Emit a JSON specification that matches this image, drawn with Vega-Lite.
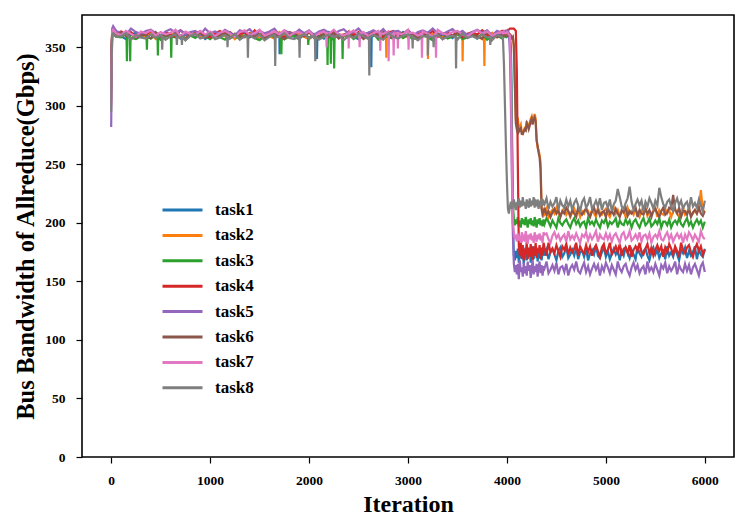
{
  "$schema": "https://vega.github.io/schema/vega-lite/v6.json",
  "width": 652,
  "height": 442,
  "autosize": {"type": "none"},
  "padding": {"left": 82, "top": 15, "right": 13, "bottom": 72},
  "background": "white",
  "config": {
    "view": {"stroke": "black", "strokeWidth": 1.6},
    "font": "Liberation Serif",
    "axis": {
      "labelFont": "Liberation Serif", "labelFontWeight": "bold", "labelFontSize": 13.5, "labelColor": "black",
      "titleFont": "Liberation Serif", "titleFontWeight": "bold", "titleColor": "black",
      "tickColor": "black", "tickSize": 6, "tickWidth": 1.2, "grid": false, "domain": false
    }
  },
  "data": {"values": [
    {"x":0,"task1":310,"task2":305,"task3":320,"task4":330,"task5":282,"task6":315,"task7":300,"task8":295},
    {"x":5,"task1":345,"task2":330,"task3":350,"task4":355,"task5":330,"task6":350,"task7":345,"task8":340},
    {"x":10,"task1":362,"task2":360,"task3":360,"task4":363,"task5":366,"task6":362,"task7":363,"task8":361},
    {"x":20,"task1":363,"task2":362,"task3":361,"task4":364,"task5":368,"task6":364,"task7":365,"task8":362},
    {"x":50,"task1":360,"task2":360,"task3":359,"task4":362,"task5":364,"task6":361,"task7":362,"task8":359},
    {"x":100,"task1":359.5,"task2":359,"task3":358.5,"task4":363.5,"task5":362.5,"task6":362.5,"task7":360.5,"task8":359.5},
    {"x":150,"task1":357,"task2":362.5,"task3":362,"task4":361,"task5":360.5,"task6":359.5,"task7":364,"task8":362},
    {"x":200,"task1":361,"task2":357.5,"task3":358,"task4":363,"task5":366,"task6":361.5,"task7":361.5,"task8":356.5},
    {"x":250,"task1":362.5,"task2":360.5,"task3":357,"task4":358.5,"task5":363,"task6":358,"task7":359,"task8":360.5},
    {"x":300,"task1":358.5,"task2":361,"task3":359.5,"task4":362.5,"task5":361.5,"task6":360,"task7":363.5,"task8":358.5},
    {"x":350,"task1":360,"task2":358.5,"task3":361.5,"task4":360.5,"task5":364,"task6":361,"task7":362,"task8":357.5},
    {"x":400,"task1":363,"task2":362,"task3":357.5,"task4":364,"task5":365,"task6":357.5,"task7":364.5,"task8":361},
    {"x":450,"task1":358,"task2":357,"task3":360,"task4":362,"task5":362,"task6":363,"task7":360,"task8":358},
    {"x":500,"task1":359.5,"task2":360,"task3":356.5,"task4":359.5,"task5":360,"task6":359,"task7":363,"task8":360.5},
    {"x":550,"task1":361.5,"task2":361.5,"task3":359,"task4":363,"task5":363.5,"task6":360.5,"task7":361,"task8":356.5},
    {"x":600,"task1":359,"task2":359.5,"task3":361,"task4":361,"task5":365.5,"task6":358.5,"task7":362.5,"task8":359.5},
    {"x":650,"task1":362.5,"task2":363,"task3":358.5,"task4":359,"task5":362.5,"task6":362,"task7":365,"task8":361},
    {"x":700,"task1":357.5,"task2":359,"task3":360.5,"task4":364.5,"task5":364.5,"task6":359.5,"task7":359.5,"task8":358.5},
    {"x":750,"task1":360.5,"task2":358,"task3":356,"task4":361.5,"task5":361,"task6":357,"task7":363.5,"task8":356},
    {"x":800,"task1":361,"task2":360.5,"task3":360,"task4":360,"task5":363,"task6":361.5,"task7":361.5,"task8":360},
    {"x":850,"task1":358.5,"task2":362.5,"task3":358,"task4":362.5,"task5":364,"task6":360,"task7":360.5,"task8":361.5},
    {"x":900,"task1":362,"task2":358.5,"task3":361.5,"task4":363.5,"task5":360.5,"task6":362.5,"task7":364,"task8":357.5},
    {"x":950,"task1":357,"task2":361,"task3":359.5,"task4":360.5,"task5":366,"task6":358,"task7":361,"task8":359},
    {"x":1000,"task1":360,"task2":357.5,"task3":357,"task4":358.5,"task5":362,"task6":361,"task7":363.5,"task8":362},
    {"x":1050,"task1":361.5,"task2":360,"task3":360.5,"task4":362,"task5":363.5,"task6":359,"task7":359.5,"task8":357},
    {"x":1100,"task1":359.5,"task2":362,"task3":358.5,"task4":364,"task5":361.5,"task6":360.5,"task7":362.5,"task8":358.5},
    {"x":1150,"task1":363,"task2":359.5,"task3":356.5,"task4":361,"task5":365,"task6":363,"task7":364,"task8":360.5},
    {"x":1200,"task1":359,"task2":361.5,"task3":362,"task4":363,"task5":362.5,"task6":357.5,"task7":361.5,"task8":358},
    {"x":1250,"task1":358,"task2":357,"task3":359,"task4":359.5,"task5":360,"task6":361.5,"task7":359,"task8":361.5},
    {"x":1300,"task1":360.5,"task2":361,"task3":357.5,"task4":361.5,"task5":364.5,"task6":359.5,"task7":363,"task8":356.5},
    {"x":1350,"task1":362.5,"task2":359,"task3":360,"task4":362.5,"task5":363,"task6":358.5,"task7":364.5,"task8":359.5},
    {"x":1400,"task1":358.5,"task2":362.5,"task3":361,"task4":359,"task5":365.5,"task6":362,"task7":360.5,"task8":360},
    {"x":1450,"task1":361,"task2":360.5,"task3":358,"task4":364.5,"task5":361,"task6":359,"task7":362,"task8":357.5},
    {"x":1500,"task1":357.5,"task2":358,"task3":356,"task4":360.5,"task5":364,"task6":361.5,"task7":365,"task8":361},
    {"x":1550,"task1":360,"task2":361.5,"task3":359.5,"task4":362,"task5":362,"task6":357.5,"task7":360,"task8":356},
    {"x":1600,"task1":362,"task2":359.5,"task3":361.5,"task4":360,"task5":363.5,"task6":360.5,"task7":361.5,"task8":359},
    {"x":1650,"task1":359.5,"task2":357.5,"task3":358.5,"task4":363.5,"task5":366,"task6":362,"task7":363.5,"task8":360.5},
    {"x":1700,"task1":361.5,"task2":363,"task3":360.5,"task4":361,"task5":360.5,"task6":359.5,"task7":361,"task8":358.5},
    {"x":1750,"task1":357,"task2":360,"task3":357,"task4":358.5,"task5":364.5,"task6":357,"task7":364.5,"task8":362},
    {"x":1800,"task1":361,"task2":358.5,"task3":359,"task4":363,"task5":362.5,"task6":361,"task7":359.5,"task8":358},
    {"x":1850,"task1":359,"task2":361,"task3":360,"task4":361.5,"task5":361.5,"task6":362.5,"task7":362.5,"task8":357},
    {"x":1900,"task1":362.5,"task2":362,"task3":356.5,"task4":364,"task5":365,"task6":358.5,"task7":363,"task8":359.5},
    {"x":1950,"task1":360.5,"task2":359,"task3":362,"task4":359.5,"task5":362,"task6":360,"task7":360.5,"task8":361.5},
    {"x":2000,"task1":358,"task2":357,"task3":358,"task4":362.5,"task5":364.5,"task6":363,"task7":364,"task8":357.5},
    {"x":2050,"task1":361.5,"task2":360.5,"task3":359.5,"task4":360.5,"task5":360.5,"task6":358,"task7":359,"task8":360},
    {"x":2100,"task1":359.5,"task2":362.5,"task3":357.5,"task4":362,"task5":363.5,"task6":359.5,"task7":362,"task8":356.5},
    {"x":2150,"task1":357.5,"task2":359.5,"task3":361,"task4":364.5,"task5":365,"task6":361.5,"task7":363.5,"task8":359},
    {"x":2200,"task1":363,"task2":361.5,"task3":358.5,"task4":359,"task5":362.5,"task6":359,"task7":361.5,"task8":361},
    {"x":2250,"task1":360,"task2":358,"task3":356,"task4":363,"task5":360,"task6":362.5,"task7":365,"task8":358.5},
    {"x":2300,"task1":358.5,"task2":360,"task3":360.5,"task4":361,"task5":364,"task6":357.5,"task7":361,"task8":360.5},
    {"x":2350,"task1":361,"task2":361,"task3":359,"task4":360,"task5":365.5,"task6":360.5,"task7":360,"task8":356},
    {"x":2400,"task1":362,"task2":357.5,"task3":361.5,"task4":363.5,"task5":361.5,"task6":361,"task7":362.5,"task8":360},
    {"x":2450,"task1":359,"task2":363,"task3":357,"task4":360.5,"task5":363,"task6":358.5,"task7":364.5,"task8":358},
    {"x":2500,"task1":357,"task2":359,"task3":360,"task4":363,"task5":366,"task6":362,"task7":360.5,"task8":361.5},
    {"x":2550,"task1":360.5,"task2":360.5,"task3":358,"task4":359,"task5":361,"task6":357,"task7":363,"task8":359.5},
    {"x":2600,"task1":362.5,"task2":358.5,"task3":359.5,"task4":362,"task5":362.5,"task6":360,"task7":359.5,"task8":357},
    {"x":2650,"task1":359.5,"task2":362,"task3":362,"task4":363.5,"task5":364.5,"task6":361.5,"task7":362,"task8":360.5},
    {"x":2700,"task1":361.5,"task2":359.5,"task3":356.5,"task4":361,"task5":362,"task6":359.5,"task7":364,"task8":358.5},
    {"x":2750,"task1":358,"task2":357,"task3":360.5,"task4":358.5,"task5":365.5,"task6":363,"task7":361.5,"task8":356.5},
    {"x":2800,"task1":360,"task2":361.5,"task3":358.5,"task4":362.5,"task5":360.5,"task6":359,"task7":363.5,"task8":362},
    {"x":2850,"task1":361,"task2":360,"task3":357.5,"task4":364,"task5":363.5,"task6":358,"task7":359,"task8":359},
    {"x":2900,"task1":357.5,"task2":362.5,"task3":361,"task4":360,"task5":364,"task6":360.5,"task7":363,"task8":357.5},
    {"x":2950,"task1":363,"task2":358,"task3":358,"task4":361.5,"task5":361.5,"task6":362.5,"task7":361,"task8":360},
    {"x":3000,"task1":359,"task2":361,"task3":360.5,"task4":364.5,"task5":365,"task6":358.5,"task7":364.5,"task8":361},
    {"x":3050,"task1":360.5,"task2":359,"task3":356.5,"task4":359.5,"task5":360,"task6":361,"task7":362.5,"task8":358},
    {"x":3100,"task1":358.5,"task2":360.5,"task3":359.5,"task4":361,"task5":363,"task6":357.5,"task7":360,"task8":356},
    {"x":3150,"task1":362,"task2":363,"task3":361,"task4":363,"task5":364.5,"task6":360,"task7":363.5,"task8":359.5},
    {"x":3200,"task1":359.5,"task2":357.5,"task3":358.5,"task4":360.5,"task5":362.5,"task6":362,"task7":361.5,"task8":361.5},
    {"x":3250,"task1":357,"task2":361.5,"task3":356,"task4":364,"task5":366,"task6":359.5,"task7":359.5,"task8":358.5},
    {"x":3300,"task1":361.5,"task2":359.5,"task3":360,"task4":359,"task5":362,"task6":361.5,"task7":365,"task8":360.5},
    {"x":3350,"task1":360,"task2":358.5,"task3":361.5,"task4":362,"task5":361,"task6":357,"task7":362,"task8":357},
    {"x":3400,"task1":362.5,"task2":362,"task3":357.5,"task4":362.5,"task5":363.5,"task6":361,"task7":360.5,"task8":359},
    {"x":3450,"task1":358,"task2":359,"task3":359,"task4":360,"task5":365.5,"task6":359,"task7":363,"task8":360},
    {"x":3500,"task1":361,"task2":361.5,"task3":362,"task4":363.5,"task5":361.5,"task6":362.5,"task7":364,"task8":356.5},
    {"x":3550,"task1":359,"task2":357.5,"task3":357,"task4":358.5,"task5":364,"task6":360.5,"task7":361,"task8":362},
    {"x":3600,"task1":360.5,"task2":360.5,"task3":358.5,"task4":361.5,"task5":360.5,"task6":358,"task7":359,"task8":358},
    {"x":3650,"task1":363,"task2":362,"task3":360.5,"task4":363,"task5":363,"task6":361.5,"task7":362.5,"task8":359.5},
    {"x":3700,"task1":357.5,"task2":359.5,"task3":358,"task4":361,"task5":365,"task6":359.5,"task7":364.5,"task8":357.5},
    {"x":3750,"task1":361.5,"task2":357,"task3":361.5,"task4":364.5,"task5":362.5,"task6":357.5,"task7":361.5,"task8":361},
    {"x":3800,"task1":359.5,"task2":361,"task3":356.5,"task4":360.5,"task5":364.5,"task6":363,"task7":363.5,"task8":358.5},
    {"x":3850,"task1":358.5,"task2":362.5,"task3":359.5,"task4":359.5,"task5":360,"task6":360,"task7":360,"task8":356},
    {"x":3900,"task1":362,"task2":358.5,"task3":360,"task4":362,"task5":364,"task6":358.5,"task7":362,"task8":360.5},
    {"x":3950,"task1":359,"task2":360,"task3":357.5,"task4":364,"task5":362,"task6":361,"task7":363,"task8":359},
    {"x":3960,"task1":360,"task2":360,"task3":359,"task4":362,"task5":363,"task6":360,"task7":362,"task8":357},
    {"x":3970,"task1":361,"task2":361,"task3":360,"task4":363,"task5":364,"task6":361,"task7":363,"task8":335},
    {"x":3980,"task1":360,"task2":360,"task3":359,"task4":363,"task5":363,"task6":360,"task7":362,"task8":300},
    {"x":3990,"task1":359,"task2":361,"task3":360,"task4":364,"task5":364,"task6":361,"task7":362,"task8":265},
    {"x":4000,"task1":361,"task2":360,"task3":359,"task4":364,"task5":363,"task6":360,"task7":363,"task8":235},
    {"x":4010,"task1":360,"task2":361,"task3":360,"task4":365,"task5":364,"task6":361,"task7":362,"task8":212},
    {"x":4020,"task1":361,"task2":360,"task3":359,"task4":365,"task5":362,"task6":360,"task7":361,"task8":208},
    {"x":4030,"task1":359,"task2":361,"task3":358,"task4":366,"task5":345,"task6":361,"task7":360,"task8":214},
    {"x":4040,"task1":350,"task2":360,"task3":340,"task4":366,"task5":300,"task6":360,"task7":330,"task8":218},
    {"x":4050,"task1":290,"task2":358,"task3":270,"task4":366,"task5":240,"task6":358,"task7":250,"task8":212},
    {"x":4060,"task1":200,"task2":359,"task3":215,"task4":366,"task5":190,"task6":359,"task7":200,"task8":216},
    {"x":4070,"task1":172,"task2":350,"task3":204,"task4":366,"task5":165,"task6":352,"task7":192,"task8":220},
    {"x":4080,"task1":168,"task2":320,"task3":198,"task4":365,"task5":158,"task6":318,"task7":186,"task8":214},
    {"x":4090,"task1":176,"task2":288,"task3":203,"task4":364,"task5":164,"task6":285,"task7":190,"task8":211},
    {"x":4100,"task1":170,"task2":282,"task3":199,"task4":330,"task5":156,"task6":280,"task7":184,"task8":218},
    {"x":4110,"task1":178,"task2":290,"task3":205,"task4":250,"task5":165,"task6":282,"task7":191,"task8":215},
    {"x":4120,"task1":166,"task2":279,"task3":197,"task4":180,"task5":152,"task6":278,"task7":185,"task8":221},
    {"x":4130,"task1":174,"task2":282,"task3":202,"task4":172,"task5":168,"task6":280,"task7":189,"task8":213},
    {"x":4140,"task1":180,"task2":284,"task3":196,"task4":184,"task5":158,"task6":281,"task7":183,"task8":219},
    {"x":4150,"task1":169,"task2":277,"task3":204,"task4":170,"task5":162,"task6":276,"task7":192,"task8":214},
    {"x":4160,"task1":177,"task2":276,"task3":199,"task4":181,"task5":154,"task6":276,"task7":186,"task8":222},
    {"x":4170,"task1":165,"task2":279,"task3":203,"task4":168,"task5":166,"task6":278,"task7":188,"task8":215},
    {"x":4180,"task1":173,"task2":281,"task3":198,"task4":178,"task5":157,"task6":280,"task7":184,"task8":218},
    {"x":4190,"task1":179,"task2":280,"task3":205,"task4":173,"task5":163,"task6":279,"task7":193,"task8":212},
    {"x":4200,"task1":168,"task2":287,"task3":200,"task4":184,"task5":155,"task6":285,"task7":187,"task8":220},
    {"x":4210,"task1":175,"task2":284,"task3":196,"task4":169,"task5":167,"task6":283,"task7":182,"task8":216},
    {"x":4220,"task1":171,"task2":281,"task3":203,"task4":179,"task5":159,"task6":280,"task7":190,"task8":213},
    {"x":4230,"task1":178,"task2":285,"task3":199,"task4":171,"task5":164,"task6":283,"task7":186,"task8":221},
    {"x":4240,"task1":166,"task2":289,"task3":204,"task4":182,"task5":153,"task6":287,"task7":191,"task8":214},
    {"x":4250,"task1":174,"task2":291,"task3":198,"task4":175,"task5":161,"task6":289,"task7":185,"task8":219},
    {"x":4260,"task1":180,"task2":286,"task3":202,"task4":168,"task5":168,"task6":284,"task7":189,"task8":215},
    {"x":4270,"task1":169,"task2":290,"task3":197,"task4":180,"task5":156,"task6":288,"task7":183,"task8":222},
    {"x":4280,"task1":176,"task2":293,"task3":205,"task4":172,"task5":163,"task6":290,"task7":192,"task8":213},
    {"x":4290,"task1":172,"task2":289,"task3":200,"task4":183,"task5":158,"task6":287,"task7":187,"task8":218},
    {"x":4300,"task1":179,"task2":272,"task3":196,"task4":170,"task5":165,"task6":270,"task7":184,"task8":216},
    {"x":4310,"task1":167,"task2":264,"task3":203,"task4":178,"task5":154,"task6":266,"task7":190,"task8":220},
    {"x":4320,"task1":175,"task2":262,"task3":199,"task4":174,"task5":162,"task6":260,"task7":186,"task8":212},
    {"x":4330,"task1":170,"task2":258,"task3":204,"task4":181,"task5":167,"task6":256,"task7":191,"task8":219},
    {"x":4340,"task1":177,"task2":252,"task3":198,"task4":169,"task5":157,"task6":245,"task7":185,"task8":214},
    {"x":4350,"task1":168,"task2":213,"task3":202,"task4":179,"task5":164,"task6":212,"task7":189,"task8":221},
    {"x":4360,"task1":174,"task2":210,"task3":197,"task4":172,"task5":155,"task6":207,"task7":183,"task8":215},
    {"x":4370,"task1":180,"task2":206,"task3":203,"task4":183,"task5":163,"task6":209,"task7":192,"task8":218},
    {"x":4380,"task1":172,"task2":207,"task3":199,"task4":179,"task5":161,"task6":213,"task7":190,"task8":216},
    {"x":4400,"task1":177,"task2":212,"task3":204,"task4":172,"task5":167,"task6":207,"task7":191,"task8":221},
    {"x":4420,"task1":169,"task2":205,"task3":201,"task4":183,"task5":157,"task6":210,"task7":186,"task8":212},
    {"x":4440,"task1":175,"task2":209,"task3":197,"task4":175,"task5":160,"task6":205,"task7":183,"task8":218},
    {"x":4460,"task1":178,"task2":211,"task3":202,"task4":178,"task5":164,"task6":209,"task7":189,"task8":214},
    {"x":4480,"task1":173,"task2":208,"task3":199,"task4":174,"task5":159,"task6":212,"task7":192,"task8":217},
    {"x":4500,"task1":168,"task2":213,"task3":196,"task4":181,"task5":166,"task6":208,"task7":187,"task8":222},
    {"x":4520,"task1":176,"task2":208,"task3":204,"task4":176,"task5":156,"task6":211,"task7":190,"task8":211},
    {"x":4540,"task1":179,"task2":206,"task3":200,"task4":171,"task5":162,"task6":205,"task7":185,"task8":219},
    {"x":4560,"task1":171,"task2":210,"task3":198,"task4":180,"task5":163,"task6":210,"task7":188,"task8":215},
    {"x":4580,"task1":174,"task2":213,"task3":201,"task4":177,"task5":158,"task6":208,"task7":190,"task8":213},
    {"x":4600,"task1":180,"task2":207,"task3":203,"task4":182,"task5":165,"task6":213,"task7":184,"task8":220},
    {"x":4620,"task1":170,"task2":210,"task3":199,"task4":173,"task5":155,"task6":210,"task7":193,"task8":214},
    {"x":4640,"task1":173,"task2":205,"task3":196,"task4":179,"task5":161,"task6":206,"task7":186,"task8":219},
    {"x":4660,"task1":177,"task2":209,"task3":201,"task4":175,"task5":164,"task6":211,"task7":189,"task8":211},
    {"x":4680,"task1":172,"task2":212,"task3":204,"task4":178,"task5":160,"task6":208,"task7":186,"task8":217},
    {"x":4700,"task1":179,"task2":208,"task3":199,"task4":183,"task5":167,"task6":205,"task7":191,"task8":220},
    {"x":4720,"task1":169,"task2":211,"task3":202,"task4":172,"task5":159,"task6":213,"task7":187,"task8":215},
    {"x":4740,"task1":175,"task2":205,"task3":197,"task4":180,"task5":157,"task6":209,"task7":183,"task8":210},
    {"x":4760,"task1":176,"task2":210,"task3":200,"task4":176,"task5":162,"task6":207,"task7":190,"task8":218},
    {"x":4780,"task1":171,"task2":208,"task3":201,"task4":174,"task5":166,"task6":210,"task7":188,"task8":221},
    {"x":4800,"task1":178,"task2":213,"task3":196,"task4":181,"task5":158,"task6":212,"task7":192,"task8":213},
    {"x":4820,"task1":168,"task2":210,"task3":204,"task4":175,"task5":163,"task6":208,"task7":185,"task8":216},
    {"x":4840,"task1":174,"task2":206,"task3":199,"task4":180,"task5":156,"task6":205,"task7":190,"task8":222},
    {"x":4860,"task1":177,"task2":211,"task3":201,"task4":172,"task5":161,"task6":210,"task7":186,"task8":212},
    {"x":4880,"task1":173,"task2":208,"task3":198,"task4":178,"task5":165,"task6":213,"task7":189,"task8":215},
    {"x":4900,"task1":180,"task2":205,"task3":203,"task4":181,"task5":160,"task6":208,"task7":193,"task8":219},
    {"x":4920,"task1":172,"task2":213,"task3":199,"task4":176,"task5":164,"task6":211,"task7":184,"task8":214},
    {"x":4940,"task1":170,"task2":209,"task3":196,"task4":171,"task5":155,"task6":206,"task7":190,"task8":221},
    {"x":4960,"task1":175,"task2":207,"task3":202,"task4":179,"task5":163,"task6":209,"task7":187,"task8":211},
    {"x":4980,"task1":179,"task2":210,"task3":200,"task4":182,"task5":159,"task6":210,"task7":186,"task8":217},
    {"x":5000,"task1":171,"task2":212,"task3":204,"task4":174,"task5":166,"task6":205,"task7":191,"task8":218},
    {"x":5020,"task1":176,"task2":208,"task3":197,"task4":177,"task5":162,"task6":213,"task7":186,"task8":213},
    {"x":5040,"task1":169,"task2":205,"task3":201,"task4":183,"task5":157,"task6":208,"task7":190,"task8":220},
    {"x":5060,"task1":174,"task2":210,"task3":199,"task4":173,"task5":164,"task6":210,"task7":184,"task8":210},
    {"x":5080,"task1":178,"task2":213,"task3":201,"task4":176,"task5":160,"task6":207,"task7":189,"task8":216},
    {"x":5100,"task1":173,"task2":208,"task3":204,"task4":180,"task5":156,"task6":212,"task7":191,"task8":219},
    {"x":5120,"task1":177,"task2":211,"task3":196,"task4":175,"task5":167,"task6":208,"task7":187,"task8":229},
    {"x":5140,"task1":168,"task2":206,"task3":202,"task4":182,"task5":161,"task6":205,"task7":183,"task8":222},
    {"x":5160,"task1":176,"task2":209,"task3":199,"task4":172,"task5":158,"task6":211,"task7":190,"task8":214},
    {"x":5180,"task1":172,"task2":210,"task3":198,"task4":178,"task5":163,"task6":209,"task7":192,"task8":212},
    {"x":5200,"task1":179,"task2":205,"task3":203,"task4":179,"task5":165,"task6":213,"task7":186,"task8":217},
    {"x":5220,"task1":175,"task2":213,"task3":199,"task4":174,"task5":159,"task6":206,"task7":188,"task8":221},
    {"x":5240,"task1":170,"task2":208,"task3":202,"task4":181,"task5":155,"task6":210,"task7":193,"task8":231},
    {"x":5260,"task1":177,"task2":210,"task3":196,"task4":171,"task5":162,"task6":208,"task7":185,"task8":218},
    {"x":5280,"task1":173,"task2":207,"task3":201,"task4":177,"task5":166,"task6":210,"task7":187,"task8":211},
    {"x":5300,"task1":169,"task2":212,"task3":203,"task4":180,"task5":160,"task6":213,"task7":190,"task8":216},
    {"x":5320,"task1":180,"task2":208,"task3":199,"task4":176,"task5":164,"task6":205,"task7":186,"task8":220},
    {"x":5340,"task1":174,"task2":205,"task3":196,"task4":183,"task5":157,"task6":211,"task7":192,"task8":215},
    {"x":5360,"task1":171,"task2":211,"task3":201,"task4":175,"task5":161,"task6":208,"task7":184,"task8":219},
    {"x":5380,"task1":176,"task2":209,"task3":204,"task4":173,"task5":163,"task6":207,"task7":189,"task8":210},
    {"x":5400,"task1":178,"task2":213,"task3":198,"task4":178,"task5":156,"task6":212,"task7":190,"task8":218},
    {"x":5420,"task1":172,"task2":206,"task3":200,"task4":182,"task5":167,"task6":208,"task7":186,"task8":214},
    {"x":5440,"task1":168,"task2":210,"task3":204,"task4":174,"task5":159,"task6":211,"task7":191,"task8":221},
    {"x":5460,"task1":175,"task2":208,"task3":197,"task4":179,"task5":162,"task6":205,"task7":183,"task8":217},
    {"x":5480,"task1":179,"task2":210,"task3":199,"task4":172,"task5":158,"task6":210,"task7":188,"task8":212},
    {"x":5500,"task1":173,"task2":213,"task3":202,"task4":177,"task5":165,"task6":212,"task7":190,"task8":219},
    {"x":5520,"task1":177,"task2":205,"task3":199,"task4":181,"task5":160,"task6":208,"task7":187,"task8":215},
    {"x":5540,"task1":170,"task2":211,"task3":204,"task4":176,"task5":155,"task6":205,"task7":193,"task8":230},
    {"x":5560,"task1":174,"task2":208,"task3":196,"task4":180,"task5":164,"task6":210,"task7":186,"task8":222},
    {"x":5580,"task1":176,"task2":207,"task3":201,"task4":171,"task5":161,"task6":213,"task7":185,"task8":216},
    {"x":5600,"task1":169,"task2":212,"task3":201,"task4":179,"task5":166,"task6":207,"task7":189,"task8":213},
    {"x":5620,"task1":180,"task2":208,"task3":198,"task4":175,"task5":157,"task6":209,"task7":192,"task8":218},
    {"x":5640,"task1":172,"task2":211,"task3":203,"task4":182,"task5":163,"task6":213,"task7":186,"task8":220},
    {"x":5660,"task1":175,"task2":205,"task3":196,"task4":178,"task5":159,"task6":212,"task7":190,"task8":214},
    {"x":5680,"task1":171,"task2":210,"task3":200,"task4":173,"task5":162,"task6":224,"task7":184,"task8":210},
    {"x":5700,"task1":178,"task2":212,"task3":202,"task4":180,"task5":167,"task6":211,"task7":188,"task8":217},
    {"x":5720,"task1":173,"task2":208,"task3":199,"task4":176,"task5":156,"task6":208,"task7":191,"task8":221},
    {"x":5740,"task1":168,"task2":205,"task3":204,"task4":172,"task5":164,"task6":213,"task7":187,"task8":215},
    {"x":5760,"task1":177,"task2":210,"task3":199,"task4":183,"task5":160,"task6":205,"task7":190,"task8":219},
    {"x":5780,"task1":174,"task2":213,"task3":197,"task4":177,"task5":158,"task6":210,"task7":183,"task8":212},
    {"x":5800,"task1":179,"task2":207,"task3":201,"task4":174,"task5":165,"task6":210,"task7":190,"task8":216},
    {"x":5820,"task1":170,"task2":209,"task3":204,"task4":179,"task5":159,"task6":207,"task7":186,"task8":218},
    {"x":5840,"task1":176,"task2":213,"task3":198,"task4":181,"task5":164,"task6":212,"task7":192,"task8":211},
    {"x":5860,"task1":172,"task2":206,"task3":201,"task4":175,"task5":156,"task6":205,"task7":189,"task8":222},
    {"x":5880,"task1":175,"task2":208,"task3":196,"task4":171,"task5":162,"task6":209,"task7":185,"task8":214},
    {"x":5900,"task1":180,"task2":211,"task3":200,"task4":178,"task5":165,"task6":211,"task7":190,"task8":217},
    {"x":5920,"task1":169,"task2":208,"task3":203,"task4":182,"task5":160,"task6":208,"task7":187,"task8":213},
    {"x":5940,"task1":177,"task2":213,"task3":199,"task4":176,"task5":155,"task6":213,"task7":184,"task8":220},
    {"x":5960,"task1":173,"task2":228,"task3":202,"task4":180,"task5":163,"task6":208,"task7":193,"task8":215},
    {"x":5980,"task1":171,"task2":210,"task3":196,"task4":173,"task5":166,"task6":206,"task7":188,"task8":210},
    {"x":6000,"task1":178,"task2":210,"task3":201,"task4":177,"task5":158,"task6":210,"task7":186,"task8":219},
    {"x":512,"task8":359},{"x":516,"task8":348},{"x":520,"task8":359},
    {"x":660,"task8":359},{"x":664,"task8":352},{"x":668,"task8":359},
    {"x":711,"task8":359},{"x":715,"task8":352},{"x":719,"task8":359},
    {"x":1172,"task8":359},{"x":1176,"task8":350},{"x":1180,"task8":359},
    {"x":1378,"task8":359},{"x":1382,"task8":341},{"x":1386,"task8":359},
    {"x":1654,"task8":359},{"x":1658,"task8":334},{"x":1662,"task8":359},
    {"x":1900,"task8":359},{"x":1904,"task8":341},{"x":1908,"task8":359},
    {"x":2059,"task8":359},{"x":2063,"task8":338},{"x":2067,"task8":359},
    {"x":2605,"task8":359},{"x":2609,"task8":326},{"x":2613,"task8":359},
    {"x":3043,"task8":359},{"x":3047,"task8":349},{"x":3051,"task8":359},
    {"x":3196,"task8":359},{"x":3200,"task8":343},{"x":3204,"task8":359},
    {"x":3255,"task8":359},{"x":3259,"task8":350},{"x":3263,"task8":359},
    {"x":3482,"task8":359},{"x":3486,"task8":332},{"x":3490,"task8":359},
    {"x":3828,"task8":359},{"x":3832,"task8":352},{"x":3836,"task8":359},
    {"x":155,"task3":359},{"x":159,"task3":338},{"x":163,"task3":359},
    {"x":188,"task3":359},{"x":192,"task3":338},{"x":196,"task3":359},
    {"x":357,"task3":359},{"x":361,"task3":348},{"x":365,"task3":359},
    {"x":468,"task3":359},{"x":472,"task3":343},{"x":476,"task3":359},
    {"x":603,"task3":359},{"x":607,"task3":341},{"x":611,"task3":359},
    {"x":1716,"task3":359},{"x":1720,"task3":344},{"x":1724,"task3":359},
    {"x":1988,"task3":359},{"x":1992,"task3":352},{"x":1996,"task3":359},
    {"x":2183,"task3":359},{"x":2187,"task3":335},{"x":2191,"task3":359},
    {"x":2216,"task3":359},{"x":2220,"task3":336},{"x":2224,"task3":359},
    {"x":2250,"task3":359},{"x":2254,"task3":332},{"x":2258,"task3":359},
    {"x":2335,"task3":359},{"x":2339,"task3":340},{"x":2343,"task3":359},
    {"x":1698,"task1":360},{"x":1702,"task1":344},{"x":1706,"task1":360},
    {"x":2076,"task1":360},{"x":2080,"task1":340},{"x":2084,"task1":360},
    {"x":2625,"task1":360},{"x":2629,"task1":333},{"x":2633,"task1":360},
    {"x":2173,"task7":362},{"x":2177,"task7":350},{"x":2181,"task7":362},
    {"x":2396,"task7":362},{"x":2400,"task7":349},{"x":2404,"task7":362},
    {"x":2507,"task7":362},{"x":2511,"task7":350},{"x":2515,"task7":362},
    {"x":2716,"task7":362},{"x":2720,"task7":347},{"x":2724,"task7":362},
    {"x":2800,"task7":362},{"x":2804,"task7":338},{"x":2808,"task7":362},
    {"x":2851,"task7":362},{"x":2855,"task7":343},{"x":2859,"task7":362},
    {"x":2894,"task7":362},{"x":2898,"task7":349},{"x":2902,"task7":362},
    {"x":3002,"task7":362},{"x":3006,"task7":348},{"x":3010,"task7":362},
    {"x":3137,"task7":362},{"x":3141,"task7":341},{"x":3145,"task7":362},
    {"x":3279,"task7":362},{"x":3283,"task7":341},{"x":3287,"task7":362},
    {"x":2777,"task2":360},{"x":2781,"task2":341},{"x":2785,"task2":360},
    {"x":3198,"task2":360},{"x":3202,"task2":340},{"x":3206,"task2":360},
    {"x":3548,"task2":360},{"x":3552,"task2":338},{"x":3556,"task2":360},
    {"x":3768,"task2":360},{"x":3772,"task2":334},{"x":3776,"task2":360}
  ]},
  "transform": [
    {"fold": ["task1","task2","task3","task4","task5","task6","task7","task8"], "as": ["task","value"]},
    {"filter": "isValid(datum.value)"}
  ],
  "mark": {"type": "line", "strokeWidth": 2.2, "clip": true},
  "encoding": {
    "x": {
      "field": "x", "type": "quantitative",
      "scale": {"domain": [-295, 6295], "nice": false, "zero": false},
      "axis": {
        "title": "Iteration", "values": [0,1000,2000,3000,4000,5000,6000], "format": "d",
        "labelBaseline": "alphabetic", "labelPadding": 21.5,
        "titleFontSize": 24, "titleBaseline": "alphabetic", "titleY": 54.4, "titleX": 326
      }
    },
    "y": {
      "field": "value", "type": "quantitative",
      "scale": {"domain": [0, 377.6], "nice": false, "zero": false},
      "axis": {
        "title": "Bus Bandwidth of Allreduce(Gbps)", "values": [0,50,100,150,200,250,300,350], "format": "d",
        "labelPadding": 11,
        "titleFontSize": 24.5, "titleAngle": 270, "titleAlign": "center", "titleBaseline": "middle",
        "titleX": -56, "titleY": 221
      }
    },
    "color": {
      "field": "task", "type": "nominal",
      "scale": {
        "domain": ["task1","task2","task3","task4","task5","task6","task7","task8"],
        "range": ["#1f77b4","#ff7f0e","#2ca02c","#d62728","#9467bd","#8c564b","#e377c2","#7f7f7f"]
      },
      "legend": {
        "title": null, "orient": "none", "legendX": 79, "legendY": 186, "padding": 0,
        "symbolType": "stroke", "symbolSize": 1600, "symbolStrokeWidth": 3,
        "clipHeight": 18, "rowPadding": 7.4, "labelOffset": 11,
        "labelFont": "Liberation Serif", "labelFontWeight": "bold", "labelFontSize": 17, "labelColor": "black"
      }
    }
  }
}
